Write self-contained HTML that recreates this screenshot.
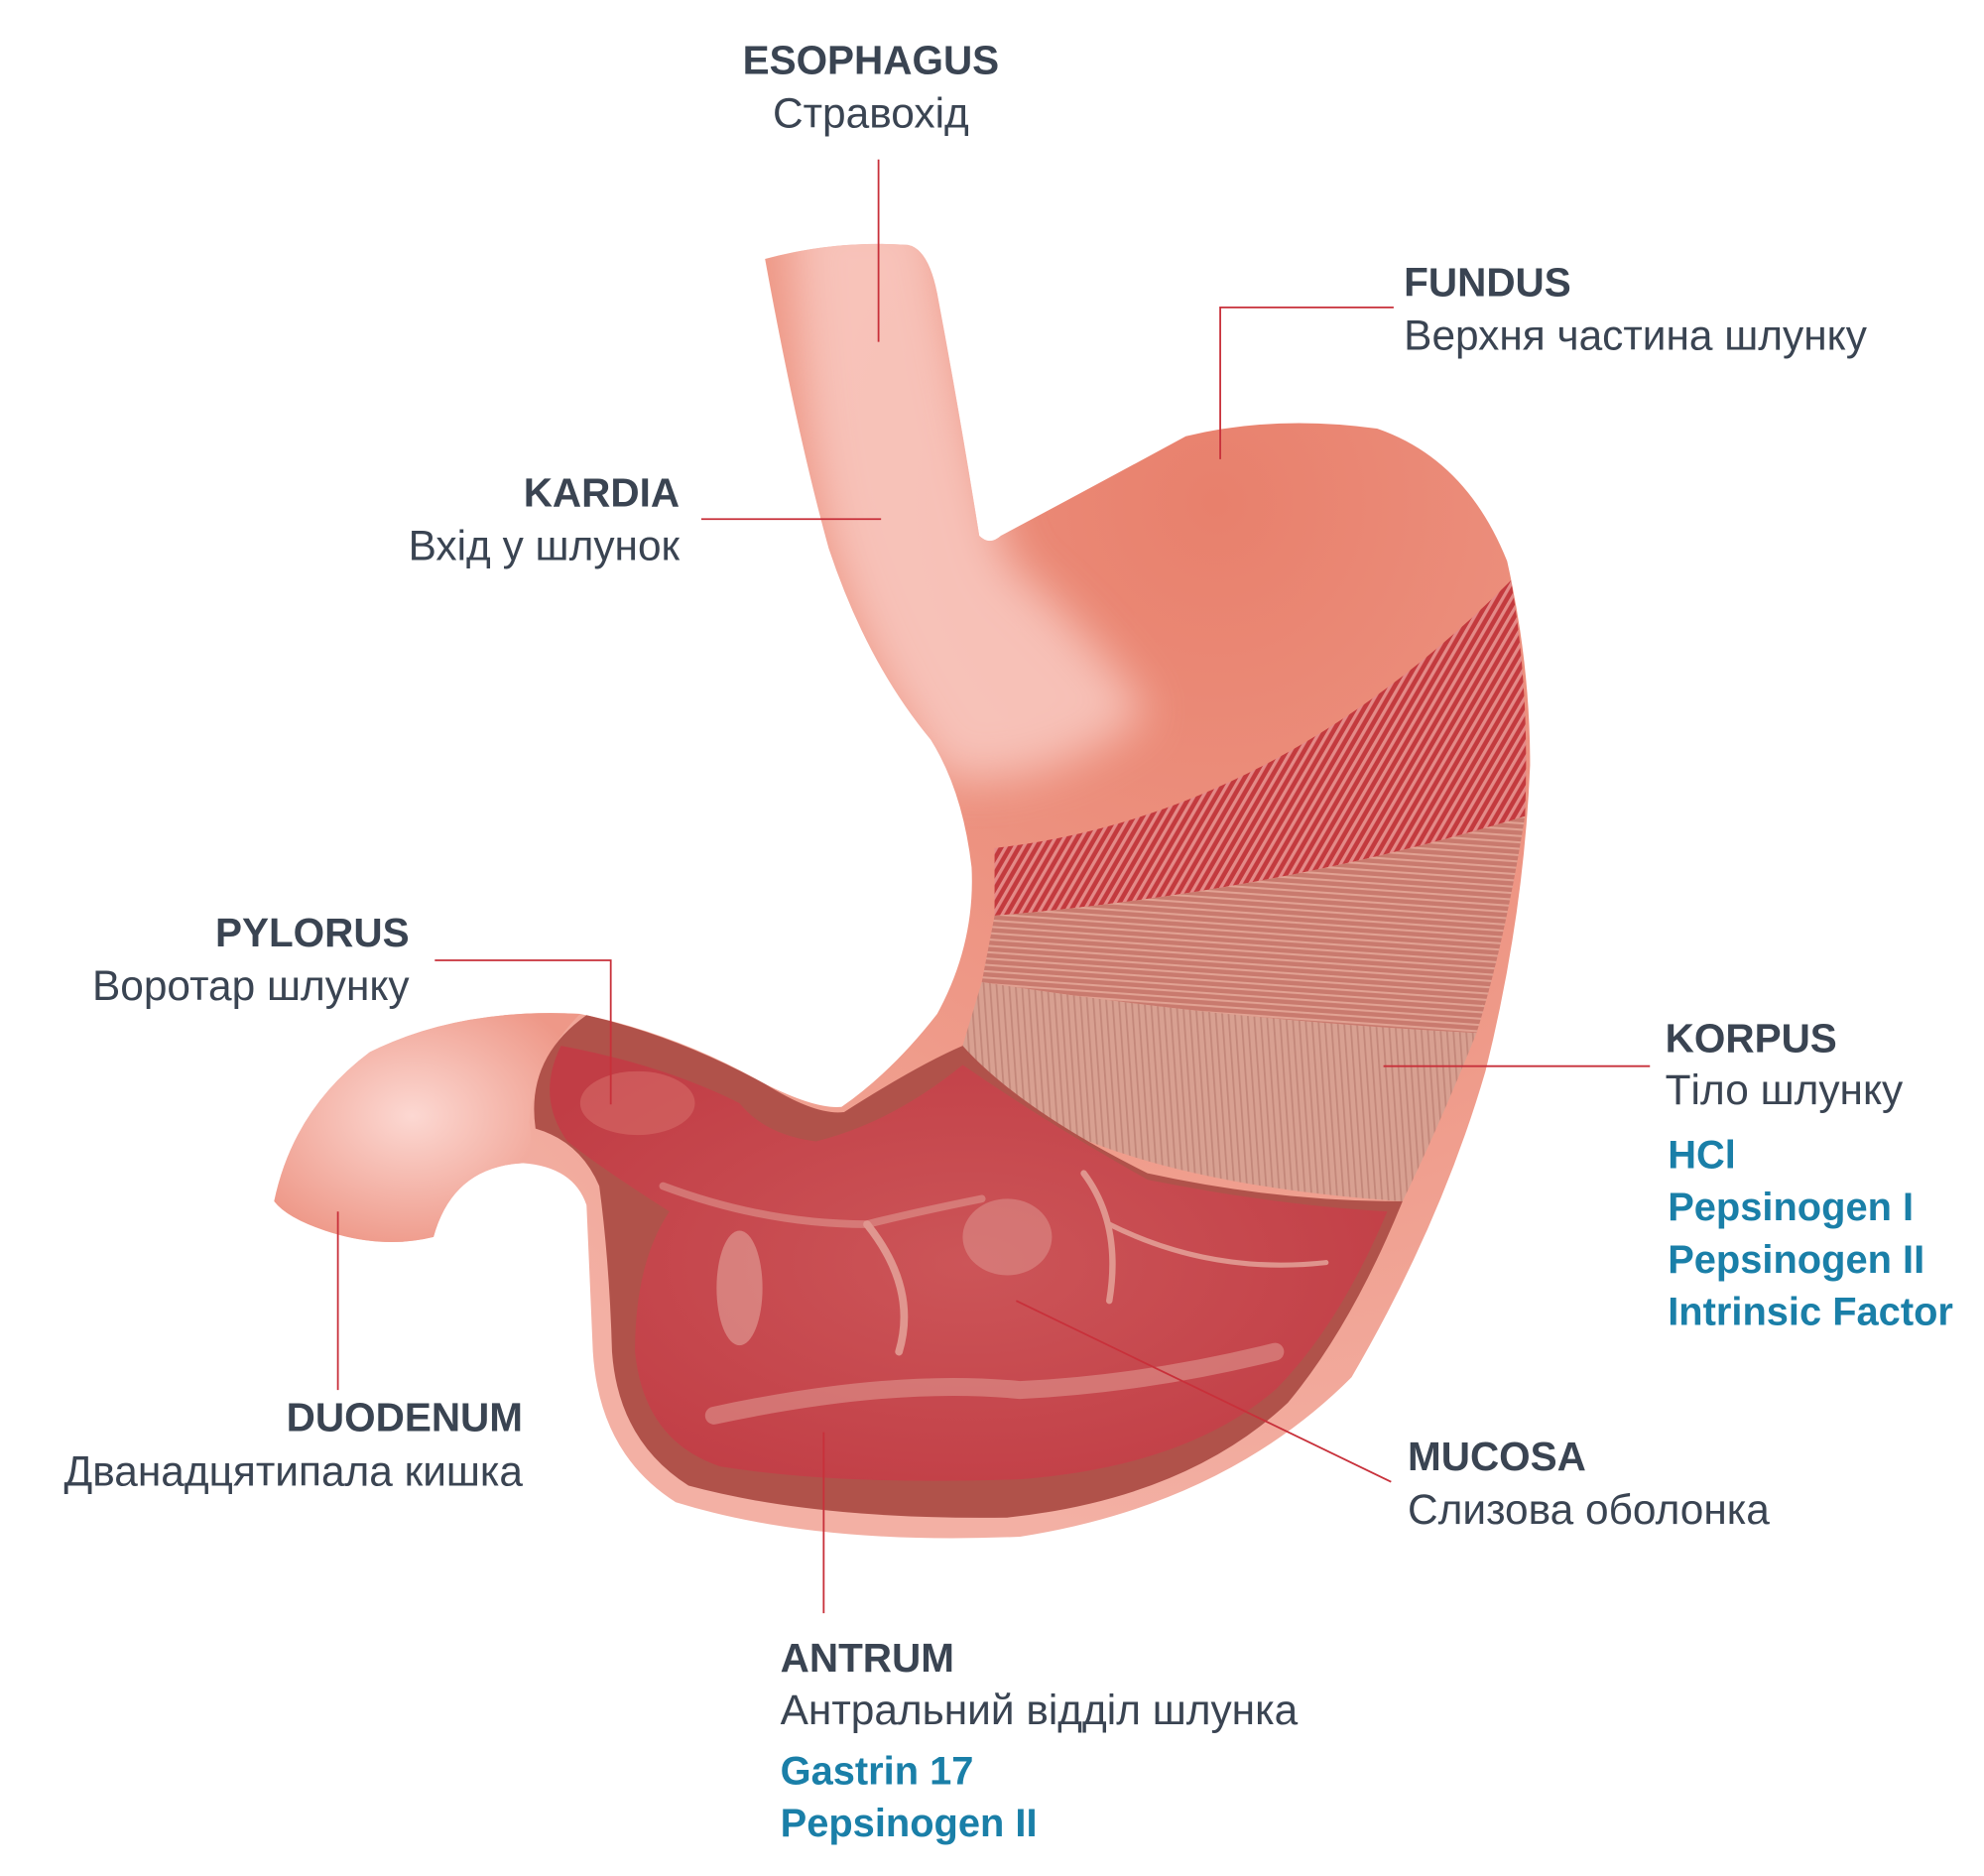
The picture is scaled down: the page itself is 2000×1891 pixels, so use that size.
<!DOCTYPE html>
<html><head><meta charset="utf-8"><style>
html,body{margin:0;padding:0;background:#fff}
svg{display:block}
.t{font-family:"Liberation Sans",sans-serif;font-size:31.5px;fill:#3a4452;font-weight:bold}
.s{font-family:"Liberation Sans",sans-serif;font-size:33px;fill:#3a4452}
.b{font-family:"Liberation Sans",sans-serif;font-size:31px;fill:#1a7fa8;font-weight:bold}
.l{stroke:#c8303a;stroke-width:1.4;fill:none}
</style></head><body>
<svg width="2000" height="1891" viewBox="0 0 1556 1471" xmlns="http://www.w3.org/2000/svg">
<defs>
<linearGradient id="eso" x1="0" y1="0" x2="1" y2="0">
<stop offset="0" stop-color="#ee9a8a"/><stop offset="0.45" stop-color="#fbd6d0"/><stop offset="1" stop-color="#ec9484"/></linearGradient>
<radialGradient id="body" cx="0.75" cy="0.2" r="0.8">
<stop offset="0" stop-color="#e8806c"/><stop offset="0.6" stop-color="#ef9b8a"/><stop offset="1" stop-color="#f3b0a4"/></radialGradient>
<radialGradient id="duo" cx="0.45" cy="0.45" r="0.6">
<stop offset="0" stop-color="#fcd8d2"/><stop offset="1" stop-color="#ee9888"/></radialGradient>
<pattern id="musc" width="6" height="20" patternUnits="userSpaceOnUse" patternTransform="rotate(30)">
<rect width="6" height="20" fill="#c33a3e"/><rect x="0" width="2.5" height="20" fill="#e48a88"/></pattern>
<pattern id="lng" width="30" height="5" patternUnits="userSpaceOnUse" patternTransform="rotate(4)">
<rect width="30" height="5" fill="#c97a6e"/><rect y="0" width="30" height="1.6" fill="#e1a293"/></pattern>
<pattern id="obl" width="5" height="30" patternUnits="userSpaceOnUse" patternTransform="rotate(-4)">
<rect width="5" height="30" fill="#d8a091"/><rect width="1.4" height="30" fill="#c3877a"/></pattern>
<radialGradient id="muc" cx="0.5" cy="0.5" r="0.6">
<stop offset="0" stop-color="#cc5558"/><stop offset="1" stop-color="#c13d45"/></radialGradient>
<filter id="bl" x="-20%" y="-20%" width="140%" height="140%"><feGaussianBlur stdDeviation="18"/></filter>
<clipPath id="bodyclip"><path id="bp" d="M600,203 Q655,188 712,192 Q728,195 735,230 Q752,320 768,420 Q776,428 785,420 Q860,380 930,342 Q1000,325 1080,336 Q1150,360 1182,440 Q1200,520 1200,600 Q1195,720 1165,840 Q1130,960 1060,1080 Q960,1180 800,1205 Q640,1212 530,1178 Q470,1140 465,1060 Q462,990 460,945 Q450,915 410,912 Q355,915 340,970 Q300,980 255,965 Q225,955 215,942 Q230,870 290,825 Q360,790 455,795 Q530,810 600,850 Q640,870 660,868 Q700,840 735,795 Q765,740 762,680 Q755,620 730,580 Q680,520 650,430 Q625,340 600,203 Z"/></clipPath>
</defs>

<!-- outer stomach -->
<path d="M600,203 Q655,188 712,192 Q728,195 735,230 Q752,320 768,420 Q776,428 785,420 Q860,380 930,342 Q1000,325 1080,336 Q1150,360 1182,440 Q1200,520 1200,600 Q1195,720 1165,840 Q1130,960 1060,1080 Q960,1180 800,1205 Q640,1212 530,1178 Q470,1140 465,1060 Q462,990 460,945 Q450,915 410,912 Q355,915 340,970 Q300,980 255,965 Q225,955 215,942 Q230,870 290,825 Q360,790 455,795 Q530,810 600,850 Q640,870 660,868 Q700,840 735,795 Q765,740 762,680 Q755,620 730,580 Q680,520 650,430 Q625,340 600,203 Z" fill="url(#body)"/>
<!-- esophagus lighter, soft -->
<g clip-path="url(#bodyclip)">
<path d="M620,160 L730,160 Q760,330 790,440 Q860,500 900,560 Q820,620 740,610 Q680,530 650,430 Q625,340 620,160 Z" fill="#fbd3cc" opacity="0.75" filter="url(#bl)"/>
</g>
<!-- duodenum -->
<path d="M215,942 Q230,870 290,825 Q360,790 455,795 Q420,830 415,880 Q420,905 410,912 Q355,915 340,970 Q300,980 255,965 Q225,955 215,942 Z" fill="url(#duo)"/>

<!-- muscle bands -->
<path d="M780,665 Q1000,640 1185,455 Q1200,540 1196,640 Q1000,700 780,718 Z" fill="url(#musc)"/>
<path d="M780,718 Q1000,700 1196,640 Q1180,740 1158,810 Q960,800 770,770 Z" fill="url(#lng)"/>
<path d="M770,770 Q960,800 1158,810 Q1130,880 1100,942 Q920,930 820,880 Q780,850 755,820 Z" fill="url(#obl)"/>

<!-- cavity dark rim -->
<path d="M460,796 Q530,812 600,850 Q640,875 662,872 Q720,835 755,820 Q800,870 900,920 Q1000,942 1100,942 Q1060,1040 1010,1100 Q930,1175 790,1190 Q640,1192 540,1165 Q485,1130 480,1060 Q478,990 470,930 Q455,895 420,885 Q412,830 460,796 Z" fill="#b0524a"/>
<!-- mucosa -->
<path d="M440,820 Q520,835 580,865 Q600,890 640,895 Q700,880 755,835 Q820,880 900,925 Q1000,945 1088,950 Q1050,1040 1000,1090 Q930,1150 800,1160 Q660,1165 565,1150 Q505,1130 498,1060 Q498,990 525,950 Q470,915 445,895 Q420,860 440,820 Z" fill="url(#muc)"/>
<!-- highlights -->
<g fill="none" stroke="#e6a89e" stroke-linecap="round" opacity="0.8">
<path d="M560,1110 Q700,1080 800,1090 Q900,1085 1000,1060" stroke-width="14" opacity="0.6"/>
<path d="M680,960 Q720,1010 705,1060" stroke-width="6"/>
<path d="M850,920 Q880,960 870,1020" stroke-width="5"/>
<path d="M870,960 Q950,1000 1040,990" stroke-width="4"/>
<path d="M520,930 Q600,960 680,960 Q720,950 770,940" stroke-width="6" opacity="0.6"/>
</g>
<ellipse cx="580" cy="1010" rx="18" ry="45" fill="#e2a49b" opacity="0.6"/>
<ellipse cx="790" cy="970" rx="35" ry="30" fill="#dc8e88" opacity="0.6"/>
<ellipse cx="500" cy="865" rx="45" ry="25" fill="#d56a68" opacity="0.6"/>

<!-- connectors -->
<path class="l" d="M689,125 V268"/>
<path class="l" d="M1093,241 H957 V360"/>
<path class="l" d="M550,407 H691"/>
<path class="l" d="M341,753 H479 V866"/>
<path class="l" d="M1085,836 H1294"/>
<path class="l" d="M265,950 V1090"/>
<path class="l" d="M797,1020 L1091,1162"/>
<path class="l" d="M646,1123 V1265"/>

<!-- labels -->
<text class="t" x="683" y="58" text-anchor="middle">ESOPHAGUS</text>
<text class="s" x="683" y="100" text-anchor="middle">Стравохід</text>
<text class="t" x="1101" y="232">FUNDUS</text>
<text class="s" x="1101" y="274">Верхня частина шлунку</text>
<text class="t" x="533" y="397" text-anchor="end">KARDIA</text>
<text class="s" x="533" y="439" text-anchor="end">Вхід у шлунок</text>
<text class="t" x="321" y="742" text-anchor="end">PYLORUS</text>
<text class="s" x="321" y="784" text-anchor="end">Воротар шлунку</text>
<text class="t" x="1306" y="825">KORPUS</text>
<text class="s" x="1306" y="866">Тіло шлунку</text>
<text class="b" x="1308" y="916">HCl</text>
<text class="b" x="1308" y="957">Pepsinogen I</text>
<text class="b" x="1308" y="998">Pepsinogen II</text>
<text class="b" x="1308" y="1039">Intrinsic Factor</text>
<text class="t" x="410" y="1122" text-anchor="end">DUODENUM</text>
<text class="s" x="410" y="1165" text-anchor="end">Дванадцятипала кишка</text>
<text class="t" x="1104" y="1153">MUCOSA</text>
<text class="s" x="1104" y="1195">Слизова оболонка</text>
<text class="t" x="612" y="1311">ANTRUM</text>
<text class="s" x="612" y="1352">Антральний відділ шлунка</text>
<text class="b" x="612" y="1399">Gastrin 17</text>
<text class="b" x="612" y="1440">Pepsinogen II</text>
</svg>
</body></html>
